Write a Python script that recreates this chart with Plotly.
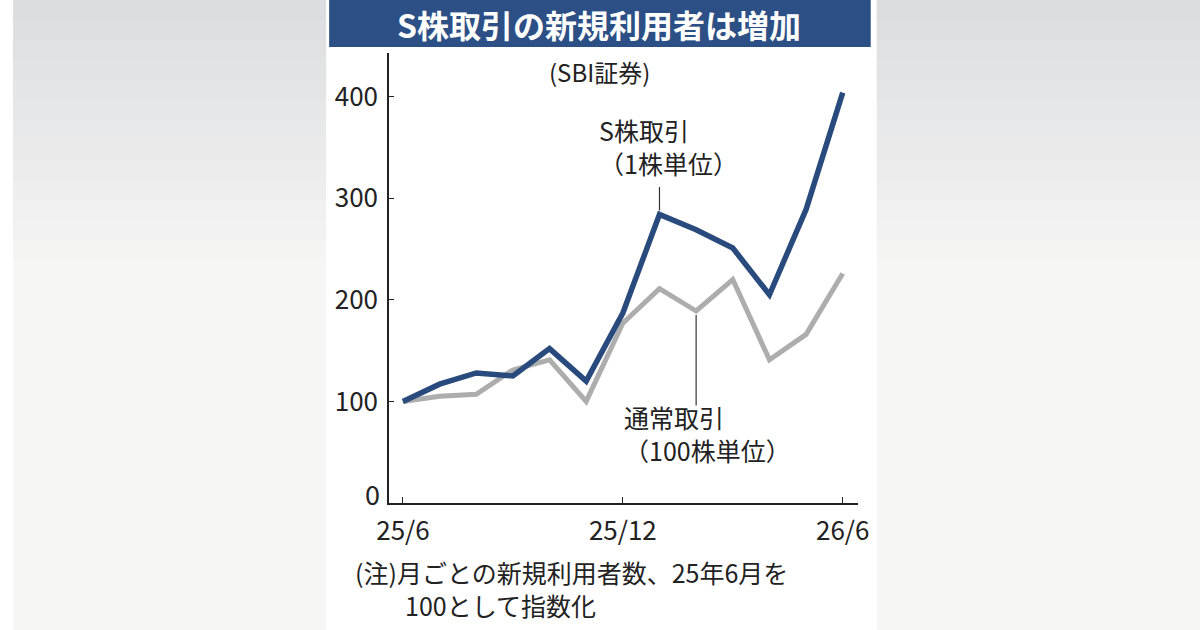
import plotly.graph_objects as go

# データ（25年6月=100の指数）
months = ["25/6", "25/7", "25/8", "25/9", "25/10", "25/11", "25/12",
          "26/1", "26/2", "26/3", "26/4", "26/5", "26/6"]
s_kabu = [100, 117, 128, 125, 152, 120, 187, 284, 269, 251, 205, 289, 404]
tsujo = [100, 105, 107, 131, 141, 100, 177, 211, 189, 220, 141, 166, 226]
tick_labels = ["25/6", "25/12", "26/6"]
y_ticks = [100, 200, 300, 400]

NAVY = "#2c4f85"
BLUE = "#294a7d"
GRAY = "#adadad"
FONT = "Noto Sans CJK JP, sans-serif"
TXT = "#222222"

# 位置は参照画像(1200x630)のピクセルで指定する
H = 630
FIG_W = 1224
# 表示時の横方向のずれ・縮みを補正
OFF_X, SCALE_X = 11, 0.983


def px(x):
    return (x - OFF_X) / SCALE_X / FIG_W


def py(y):
    return 1 - y / H


fig = go.Figure()

fig.add_trace(go.Scatter(x=months, y=tsujo, mode="lines",
                         line=dict(color=GRAY, width=5), hoverinfo="skip"))
fig.add_trace(go.Scatter(x=months, y=s_kabu, mode="lines",
                         line=dict(color=BLUE, width=5.5), hoverinfo="skip"))

shapes = []
# 背景（上部がやや暗いグラデーション）
top = (220, 221, 224)
bot = (246, 246, 245)
n = 14
for i in range(n):
    t = i / (n - 1)
    c = tuple(round(top[k] + (bot[k] - top[k]) * t) for k in range(3))
    shapes.append(dict(type="rect", xref="paper", yref="paper", layer="below",
                       x0=0, x1=1, y0=py(i * 20), y1=py(i * 20 + 21),
                       fillcolor="rgb(%d,%d,%d)" % c, line_width=0))
shapes.append(dict(type="rect", xref="paper", yref="paper", layer="below",
                   x0=0, x1=1, y0=0, y1=py(n * 20),
                   fillcolor="rgb(%d,%d,%d)" % bot, line_width=0))
# 白いパネルとタイトル帯
shapes.append(dict(type="rect", xref="paper", yref="paper", layer="below",
                   x0=px(325), x1=px(877), y0=0, y1=1,
                   fillcolor="white", line_width=0))
shapes.append(dict(type="rect", xref="paper", yref="paper", layer="below",
                   x0=px(328), x1=px(871), y0=py(47), y1=1,
                   fillcolor=NAVY, line_width=0))
# 引き出し線
shapes.append(dict(type="line", xref="x", yref="y", x0=7, x1=7, y0=288, y1=311,
                   line=dict(color="#333333", width=1.2)))
shapes.append(dict(type="line", xref="x", yref="y", x0=8, x1=8, y0=185, y1=96,
                   line=dict(color="#333333", width=1.2)))

ann = [
    dict(text="<b>S株取引の新規利用者は増加</b>", x=px(599), y=py(24),
         font=dict(size=32, color="white"), xanchor="center"),
    dict(text="(SBI証券)", x=px(599), y=py(71),
         font=dict(size=24, color=TXT), xanchor="center"),
    dict(text="S株取引<br>（1株単位）", x=px(597), y=py(146),
         font=dict(size=25, color=TXT), xanchor="left", align="left"),
    dict(text="通常取引<br>（100株単位）", x=px(622), y=py(433),
         font=dict(size=25, color=TXT), xanchor="left", align="left"),
    dict(text="(注)月ごとの新規利用者数、25年6月を<br>　　100として指数化",
         x=px(352), y=py(588),
         font=dict(size=25, color=TXT), xanchor="left", align="left"),
    dict(text="0", x=px(381), y=py(493),
         font=dict(size=27, color=TXT), xanchor="right"),
]
for a in ann:
    a["font"]["family"] = FONT
    a.update(xref="paper", yref="paper", yanchor="middle", showarrow=False)

fig.update_layout(
    width=FIG_W, height=H,
    margin=dict(l=0, r=0, t=0, b=0, pad=0),
    paper_bgcolor="white",
    plot_bgcolor="rgba(0,0,0,0)",
    showlegend=False,
    shapes=shapes,
    annotations=ann,
    xaxis=dict(domain=[px(388), px(858)], type="category",
               range=[-0.38, 12.41], tickvals=tick_labels, ticktext=tick_labels,
               ticks="inside", ticklen=6, tickcolor=TXT,
               showline=True, linecolor=TXT, linewidth=1.5,
               showgrid=False, zeroline=False, ticklabelstandoff=4,
               tickfont=dict(family=FONT, size=26, color=TXT)),
    yaxis=dict(domain=[1 - 503 / H, 1 - 53 / H], range=[0, 443],
               tickvals=y_ticks, ticks="inside", ticklen=5, tickcolor=TXT,
               showline=True, linecolor=TXT, linewidth=1.5,
               showgrid=False, zeroline=False, ticklabelstandoff=4,
               tickfont=dict(family=FONT, size=26, color=TXT)),
)

fit_page = """
var s = document.createElement('style');
s.textContent = 'html,body{margin:0;padding:0;background:#ececec;}';
document.head.appendChild(s);
"""
fig.write_html("out.html", config={"displayModeBar": False}, post_script=fit_page)
